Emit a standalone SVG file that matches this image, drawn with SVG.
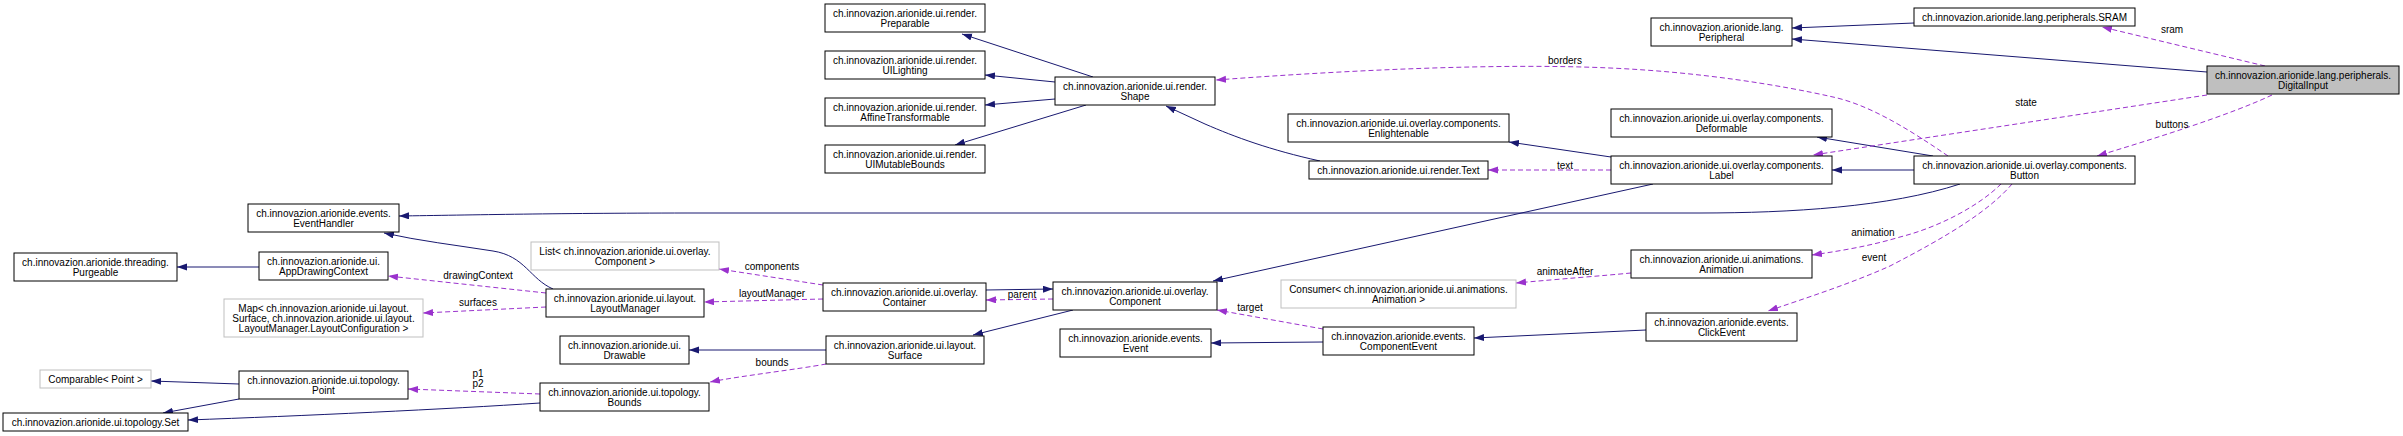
<svg xmlns="http://www.w3.org/2000/svg" width="2403" height="436" viewBox="0 0 2403 436">
<style>
.n rect{fill:#fff;stroke:#000;stroke-width:1}
.n.ext rect{stroke:#bfbfbf}
.n.cur rect{fill:#bfbfbf}
text{font-family:"Liberation Sans",Arial,Helvetica,sans-serif;font-size:10px;fill:#000}
.n text{text-anchor:middle}
.inh{fill:none;stroke:#191970;stroke-width:1}
.use{fill:none;stroke:#9a32cd;stroke-width:1;stroke-dasharray:5,3}
.lbl{text-anchor:middle}
</style>
<defs>
<marker id="ai" markerUnits="userSpaceOnUse" markerWidth="11" markerHeight="8" refX="10" refY="3.5" orient="auto"><path d="M0,0 L10,3.5 L0,7 z" fill="#191970"/></marker>
<marker id="au" markerUnits="userSpaceOnUse" markerWidth="11" markerHeight="8" refX="10" refY="3.5" orient="auto"><path d="M0,0 L10,3.5 L0,7 z" fill="#9a32cd"/></marker>
</defs>
<rect width="2403" height="436" fill="#fff"/>
<g id="edges">
<path class="inh" marker-end="url(#ai)" d="M1914,23 L1792,28"/>
<path class="inh" marker-end="url(#ai)" d="M2207,72 L1792,39"/>
<path class="inh" marker-end="url(#ai)" d="M1093,77 L962,34"/>
<path class="inh" marker-end="url(#ai)" d="M1055,82 L985,75"/>
<path class="inh" marker-end="url(#ai)" d="M1055,99 L985,105"/>
<path class="inh" marker-end="url(#ai)" d="M1086,105 L955,145"/>
<path class="inh" marker-end="url(#ai)" d="M1320,161 C1270,150 1235,137 1205,124 L1166,106"/>
<path class="inh" marker-end="url(#ai)" d="M1611,157 L1509,142"/>
<path class="inh" marker-end="url(#ai)" d="M1914,170 L1832,170"/>
<path class="inh" marker-end="url(#ai)" d="M1933,156 L1817,137"/>
<path class="inh" marker-end="url(#ai)" d="M1960,184 C1890,207 1790,213 1700,213 L700,213 C560,213 470,215 399,216"/>
<path class="inh" marker-end="url(#ai)" d="M1653,184 L1213,281"/>
<path class="inh" marker-end="url(#ai)" d="M986,290 L1053,289"/>
<path class="inh" marker-end="url(#ai)" d="M1073,310 L973,335"/>
<path class="inh" marker-end="url(#ai)" d="M826,350 L689,350"/>
<path class="inh" marker-end="url(#ai)" d="M553,289 C530,279 525,256 493,251 C455,245 420,241 384,233"/>
<path class="inh" marker-end="url(#ai)" d="M239,384 L151,381"/>
<path class="inh" marker-end="url(#ai)" d="M239,399 L163,413"/>
<path class="inh" marker-end="url(#ai)" d="M540,403 C450,409 300,416 188,420"/>
<path class="inh" marker-end="url(#ai)" d="M259,267 L177,267"/>
<path class="inh" marker-end="url(#ai)" d="M1323,342 L1211,343"/>
<path class="inh" marker-end="url(#ai)" d="M1646,330 L1474,338"/>

<path class="use" marker-end="url(#au)" d="M2265,66 L2102,27"/>
<text class="lbl" x="2172" y="33">sram</text>
<path class="use" marker-end="url(#au)" d="M2207,95 L1813,155"/>
<text class="lbl" x="2026" y="106">state</text>
<path class="use" marker-end="url(#au)" d="M2272,95 C2230,115 2150,140 2097,156"/>
<text class="lbl" x="2172" y="128">buttons</text>
<path class="use" marker-end="url(#au)" d="M1948,156 C1910,130 1870,105 1833,97 C1780,85 1700,72 1610,68 C1500,63 1350,70 1216,80"/>
<text class="lbl" x="1565" y="64">borders</text>
<path class="use" marker-end="url(#au)" d="M1611,170 L1488,170"/>
<text class="lbl" x="1565" y="169">text</text>
<path class="use" marker-end="url(#au)" d="M2001,184 C1980,205 1940,227 1900,237 C1870,246 1840,251 1812,255"/>
<text class="lbl" x="1873" y="236">animation</text>
<path class="use" marker-end="url(#au)" d="M2012,184 C1990,210 1950,235 1890,266 C1850,284 1800,300 1768,311"/>
<text class="lbl" x="1874" y="261">event</text>
<path class="use" marker-end="url(#au)" d="M1631,273 C1600,276 1560,279 1516,283"/>
<text class="lbl" x="1565" y="275">animateAfter</text>
<path class="use" marker-end="url(#au)" d="M1323,329 L1217,310"/>
<text class="lbl" x="1250" y="310.5">target</text>
<path class="use" marker-end="url(#au)" d="M1053,299 L986,300"/>
<text class="lbl" x="1022" y="297.5">parent</text>
<path class="use" marker-end="url(#au)" d="M823,285 L719,269"/>
<text class="lbl" x="772" y="270">components</text>
<path class="use" marker-end="url(#au)" d="M823,299 L704,302"/>
<text class="lbl" x="772" y="297">layoutManager</text>
<path class="use" marker-end="url(#au)" d="M546,293 L388,276"/>
<text class="lbl" x="478" y="279">drawingContext</text>
<path class="use" marker-end="url(#au)" d="M546,307 L423,313"/>
<text class="lbl" x="478" y="306">surfaces</text>
<path class="use" marker-end="url(#au)" d="M826,364 C800,369 740,376 710,382"/>
<text class="lbl" x="772" y="366">bounds</text>
<path class="use" marker-end="url(#au)" d="M540,394 L408,389"/>
<text class="lbl" x="478" y="377">p1</text>
<text class="lbl" x="478" y="387">p2</text>
</g>

<g id="n_eventhandler" class="n"><rect x="248" y="204" width="151" height="28"/><text x="323.5" y="216.5">ch.innovazion.arionide.events.</text><text x="323.5" y="226.5">EventHandler</text></g>
<g id="n_purgeable" class="n"><rect x="14" y="253" width="163" height="28"/><text x="95.5" y="265.5">ch.innovazion.arionide.threading.</text><text x="95.5" y="275.5">Purgeable</text></g>
<g id="n_appdrawingcontext" class="n"><rect x="259" y="252" width="129" height="28"/><text x="323.5" y="264.5">ch.innovazion.arionide.ui.</text><text x="323.5" y="274.5">AppDrawingContext</text></g>
<g id="n_map" class="n ext"><rect x="224" y="299" width="199" height="38"/><text x="323.5" y="311.5">Map&lt; ch.innovazion.arionide.ui.layout.</text><text x="323.5" y="321.5">Surface, ch.innovazion.arionide.ui.layout.</text><text x="323.5" y="331.5">LayoutManager.LayoutConfiguration &gt;</text></g>
<g id="n_comparable" class="n ext"><rect x="40" y="370" width="111" height="18"/><text x="95.5" y="382.5">Comparable&lt; Point &gt;</text></g>
<g id="n_point" class="n"><rect x="239" y="371" width="169" height="28"/><text x="323.5" y="383.5">ch.innovazion.arionide.ui.topology.</text><text x="323.5" y="393.5">Point</text></g>
<g id="n_set" class="n"><rect x="3" y="413" width="185" height="18"/><text x="95.5" y="425.5">ch.innovazion.arionide.ui.topology.Set</text></g>
<g id="n_list" class="n ext"><rect x="531" y="242" width="188" height="28"/><text x="625" y="254.5">List&lt; ch.innovazion.arionide.ui.overlay.</text><text x="625" y="264.5">Component &gt;</text></g>
<g id="n_layoutmanager" class="n"><rect x="546" y="289" width="158" height="28"/><text x="625" y="301.5">ch.innovazion.arionide.ui.layout.</text><text x="625" y="311.5">LayoutManager</text></g>
<g id="n_drawable" class="n"><rect x="560" y="336" width="129" height="28"/><text x="624.5" y="348.5">ch.innovazion.arionide.ui.</text><text x="624.5" y="358.5">Drawable</text></g>
<g id="n_bounds" class="n"><rect x="540" y="383" width="169" height="28"/><text x="624.5" y="395.5">ch.innovazion.arionide.ui.topology.</text><text x="624.5" y="405.5">Bounds</text></g>
<g id="n_preparable" class="n"><rect x="825" y="4" width="160" height="28"/><text x="905" y="16.5">ch.innovazion.arionide.ui.render.</text><text x="905" y="26.5">Preparable</text></g>
<g id="n_uilighting" class="n"><rect x="825" y="51" width="160" height="28"/><text x="905" y="63.5">ch.innovazion.arionide.ui.render.</text><text x="905" y="73.5">UILighting</text></g>
<g id="n_affinetransformable" class="n"><rect x="825" y="98" width="160" height="28"/><text x="905" y="110.5">ch.innovazion.arionide.ui.render.</text><text x="905" y="120.5">AffineTransformable</text></g>
<g id="n_uimutablebounds" class="n"><rect x="825" y="145" width="160" height="28"/><text x="905" y="157.5">ch.innovazion.arionide.ui.render.</text><text x="905" y="167.5">UIMutableBounds</text></g>
<g id="n_shape" class="n"><rect x="1055" y="77" width="160" height="28"/><text x="1135" y="89.5">ch.innovazion.arionide.ui.render.</text><text x="1135" y="99.5">Shape</text></g>
<g id="n_container" class="n"><rect x="823" y="283" width="163" height="28"/><text x="904.5" y="295.5">ch.innovazion.arionide.ui.overlay.</text><text x="904.5" y="305.5">Container</text></g>
<g id="n_surface" class="n"><rect x="826" y="336" width="158" height="28"/><text x="905" y="348.5">ch.innovazion.arionide.ui.layout.</text><text x="905" y="358.5">Surface</text></g>
<g id="n_component" class="n"><rect x="1053" y="282" width="164" height="28"/><text x="1135" y="294.5">ch.innovazion.arionide.ui.overlay.</text><text x="1135" y="304.5">Component</text></g>
<g id="n_event" class="n"><rect x="1060" y="329" width="151" height="28"/><text x="1135.5" y="341.5">ch.innovazion.arionide.events.</text><text x="1135.5" y="351.5">Event</text></g>
<g id="n_enlightenable" class="n"><rect x="1288" y="114" width="221" height="28"/><text x="1398.5" y="126.5">ch.innovazion.arionide.ui.overlay.components.</text><text x="1398.5" y="136.5">Enlightenable</text></g>
<g id="n_text" class="n"><rect x="1309" y="161" width="179" height="18"/><text x="1398.5" y="173.5">ch.innovazion.arionide.ui.render.Text</text></g>
<g id="n_consumer" class="n ext"><rect x="1281" y="280" width="235" height="28"/><text x="1398.5" y="292.5">Consumer&lt; ch.innovazion.arionide.ui.animations.</text><text x="1398.5" y="302.5">Animation &gt;</text></g>
<g id="n_componentevent" class="n"><rect x="1323" y="327" width="151" height="28"/><text x="1398.5" y="339.5">ch.innovazion.arionide.events.</text><text x="1398.5" y="349.5">ComponentEvent</text></g>
<g id="n_peripheral" class="n"><rect x="1651" y="18" width="141" height="28"/><text x="1721.5" y="30.5">ch.innovazion.arionide.lang.</text><text x="1721.5" y="40.5">Peripheral</text></g>
<g id="n_deformable" class="n"><rect x="1611" y="109" width="221" height="28"/><text x="1721.5" y="121.5">ch.innovazion.arionide.ui.overlay.components.</text><text x="1721.5" y="131.5">Deformable</text></g>
<g id="n_label" class="n"><rect x="1611" y="156" width="221" height="28"/><text x="1721.5" y="168.5">ch.innovazion.arionide.ui.overlay.components.</text><text x="1721.5" y="178.5">Label</text></g>
<g id="n_sram" class="n"><rect x="1914" y="8" width="221" height="18"/><text x="2024.5" y="20.5">ch.innovazion.arionide.lang.peripherals.SRAM</text></g>
<g id="n_button" class="n"><rect x="1914" y="156" width="221" height="28"/><text x="2024.5" y="168.5">ch.innovazion.arionide.ui.overlay.components.</text><text x="2024.5" y="178.5">Button</text></g>
<g id="n_digitalinput" class="n cur"><rect x="2207" y="66" width="192" height="28"/><text x="2303" y="78.5">ch.innovazion.arionide.lang.peripherals.</text><text x="2303" y="88.5">DigitalInput</text></g>
<g id="n_animation" class="n"><rect x="1631" y="250" width="181" height="28"/><text x="1721.5" y="262.5">ch.innovazion.arionide.ui.animations.</text><text x="1721.5" y="272.5">Animation</text></g>
<g id="n_clickevent" class="n"><rect x="1646" y="313" width="151" height="28"/><text x="1721.5" y="325.5">ch.innovazion.arionide.events.</text><text x="1721.5" y="335.5">ClickEvent</text></g>
</svg>
